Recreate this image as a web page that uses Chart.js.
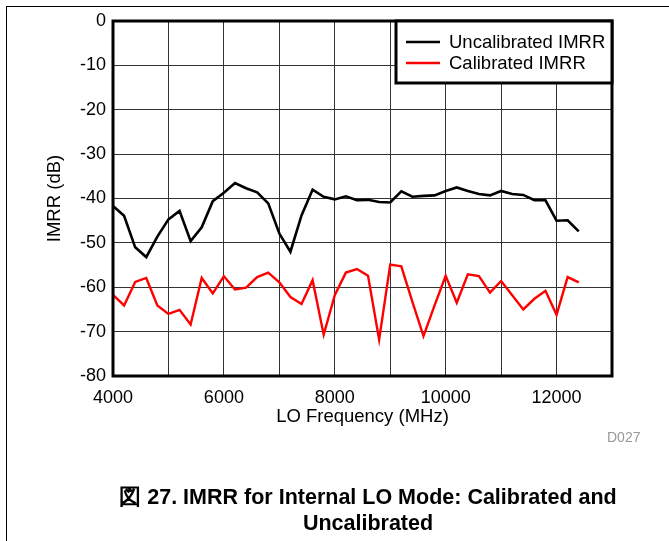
<!DOCTYPE html>
<html>
<head>
<meta charset="utf-8">
<script src="https://cdn.jsdelivr.net/npm/chart.js@4"></script>
<style>
  html, body { margin: 0; padding: 0; background: #fff; }
  body { width: 669px; height: 541px; position: relative; overflow: hidden; font-family: "Liberation Sans", Arial, sans-serif; }
  .frame { position: absolute; left: 6px; top: 6px; width: 700px; height: 600px; border-left: 1.5px solid #000; border-top: 1.5px solid #000; }
  #wrap { position: absolute; left: 0; top: 0; width: 669px; height: 541px; }
  .code { position: absolute; left: 607px; top: 430px; font-size: 14px; line-height: 14px; color: #999; }
  .caption { position: absolute; left: 68px; top: 484px; width: 600px; text-align: center; font-size: 21.5px; line-height: 26px; font-weight: bold; color: #000; }
</style>
</head>
<body>
<div class="frame"></div>
<div id="wrap"><canvas id="imrrChart" width="669" height="541"></canvas></div>
<div class="code">D027</div>
<div class="caption">図 27. IMRR for Internal LO Mode: Calibrated and<br>Uncalibrated</div>
<script>
// LO frequency points (MHz)
const freqs = [4000, 4200, 4400, 4600, 4800, 5000, 5200, 5400, 5600, 5800,
  6000, 6200, 6400, 6600, 6800, 7000, 7200, 7400, 7600, 7800,
  8000, 8200, 8400, 8600, 8800, 9000, 9200, 9400, 9600, 9800,
  10000, 10200, 10400, 10600, 10800, 11000, 11200, 11400, 11600, 11800,
  12000, 12200, 12400];

// IMRR (dB)
const uncalibrated = [-41.7, -43.9, -51.0, -53.2, -48.6, -44.7, -42.8, -49.6, -46.5, -40.6,
  -38.7, -36.5, -37.7, -38.6, -41.1, -47.9, -52.0, -43.8, -38.0, -39.6,
  -40.2, -39.5, -40.4, -40.3, -40.8, -40.9, -38.4, -39.6, -39.4, -39.3,
  -38.3, -37.5, -38.3, -39.0, -39.3, -38.3, -39.0, -39.2, -40.4, -40.4,
  -45.0, -44.9, -47.4];
const calibrated = [-61.7, -64.1, -58.8, -57.9, -64.1, -66.0, -65.1, -68.4, -57.9, -61.4,
  -57.5, -60.5, -60.1, -57.7, -56.7, -58.9, -62.2, -63.8, -58.4, -70.7,
  -61.8, -56.7, -55.9, -57.4, -71.8, -54.9, -55.3, -63.3, -71.0, -64.1,
  -57.4, -63.5, -57.1, -57.5, -61.2, -58.6, -61.8, -65.0, -62.6, -60.8,
  -66.2, -57.7, -58.9];

const xLabels = [4000, 6000, 8000, 10000, 12000];
const yTicks = [0, -10, -20, -30, -40, -50, -60, -70, -80];

const FONT = '"Liberation Sans", Arial, sans-serif';

function toPoints(vals) {
  return freqs.map((f, i) => ({ x: f, y: vals[i] }));
}

// frame round the plot + legend box in the top right corner
const framePlugin = {
  id: 'framePlugin',
  afterDraw(chart) {
    const ctx = chart.ctx;
    const a = chart.chartArea;
    ctx.save();
    ctx.strokeStyle = '#000';
    ctx.lineWidth = 3;
    ctx.strokeRect(a.left, a.top, a.right - a.left, a.bottom - a.top);

    // legend
    const bx = 396, by = a.top, bw = a.right - 396, bh = 62;
    ctx.fillStyle = '#fff';
    ctx.fillRect(bx, by, bw, bh);
    ctx.strokeRect(bx, by, bw, bh);
    ctx.font = '18.5px ' + FONT;
    ctx.textBaseline = 'middle';
    chart.data.datasets.forEach((ds, i) => {
      const y = by + 21 + i * 21;
      ctx.strokeStyle = ds.borderColor;
      ctx.lineWidth = 2.5;
      ctx.beginPath();
      ctx.moveTo(406, y);
      ctx.lineTo(440, y);
      ctx.stroke();
      ctx.fillStyle = '#000';
      ctx.fillText(ds.label, 449, y + 1);
    });
    ctx.restore();
  }
};

const ctx = document.getElementById('imrrChart').getContext('2d');
const chart = new Chart(ctx, {
  type: 'line',
  data: {
    datasets: [{
      label: 'Uncalibrated IMRR',
      data: toPoints(uncalibrated),
      borderColor: '#000000',
      borderWidth: 2.6,
      pointRadius: 0,
      tension: 0
    }, {
      label: 'Calibrated IMRR',
      data: toPoints(calibrated),
      borderColor: '#ff0000',
      borderWidth: 2.4,
      pointRadius: 0,
      tension: 0
    }]
  },
  options: {
    responsive: false,
    animation: false,
    devicePixelRatio: 1,
    layout: { padding: { left: 44, right: 57, top: 21, bottom: 113 } },
    plugins: {
      legend: { display: false },
      tooltip: { enabled: false }
    },
    scales: {
      x: {
        type: 'linear',
        min: 4000,
        max: 13000,
        afterFit: (scale) => { scale.height = 52; },
        grid: { color: '#333', lineWidth: 1, drawTicks: false },
        border: { display: false },
        ticks: {
          stepSize: 1000,
          autoSkip: false,
          maxRotation: 0,
          padding: 11,
          color: '#000',
          font: { family: FONT, size: 18 },
          callback: (v) => xLabels.includes(v) ? String(v) : ''
        },
        title: {
          display: true,
          text: 'LO Frequency (MHz)',
          color: '#000',
          padding: 0,
          font: { family: FONT, size: 18.5 }
        }
      },
      y: {
        min: -80,
        max: 0,
        afterFit: (scale) => { scale.width = 69; },
        grid: { color: '#333', lineWidth: 1, drawTicks: false },
        border: { display: false },
        ticks: {
          stepSize: 10,
          padding: 7,
          color: '#000',
          font: { family: FONT, size: 18 },
          callback: (v) => yTicks.includes(v) ? String(v) : ''
        },
        title: {
          display: true,
          text: 'IMRR (dB)',
          color: '#000',
          padding: 0,
          font: { family: FONT, size: 18.5 }
        }
      }
    }
  },
  plugins: [framePlugin]
});
</script>
</body>
</html>
